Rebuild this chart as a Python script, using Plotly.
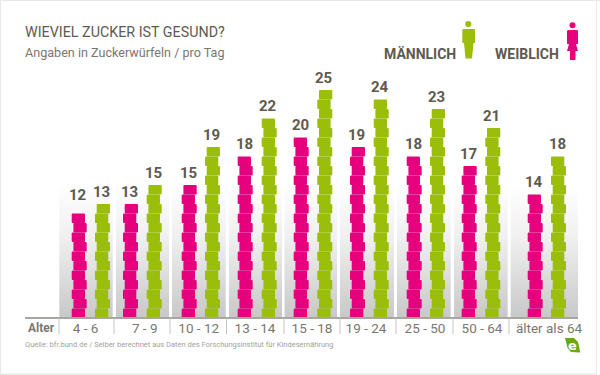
import plotly.graph_objects as go

# ---- data ----
age_groups = ["4 - 6", "7 - 9", "10 - 12", "13 - 14", "15 - 18", "19 - 24", "25 - 50", "50 - 64", "älter als 64"]
weiblich = [12, 13, 15, 18, 20, 19, 18, 17, 14]
maennlich = [13, 15, 19, 22, 25, 24, 23, 21, 18]

# ---- layout constants ----
W, H = 600, 375
BASE_PX = 318
CUBE_PX = 9.5
PINK, GREEN = "#e6007e", "#9bbe0a"
DARK, MID, LIGHT = "#5e5a50", "#7a776f", "#a3a19a"
NARROW = "Roboto, sans-serif"
pink_left = [71.7, 123.0, 181.7, 237.7, 293.7, 350.0, 406.7, 461.7, 527.7]
green_left = [95.0, 146.7, 205.0, 261.7, 317.3, 373.7, 430.0, 485.3, 551.0]
panel_edges = [(59.3, 112.7), (116, 169), (172, 225.7), (229, 282), (284.5, 337),
               (340, 394), (397, 450.7), (454, 507.7), (510.7, 578)]
separators = [59, 114, 170, 226.5, 284, 340, 396, 453, 509]
label_centres = [85.5, 144.7, 198.7, 255, 312, 366, 425, 482, 549]
CUBE_W = 13.3
JOG = 1.7


def y_of_px(py):
    """Value-axis coordinate of a pixel row (the cubes start at value 1)."""
    return 1 + (BASE_PX - py) / CUBE_PX


def fx(px):
    return px / W


def fy(py):
    return 1 - py / H


def cubes(lefts, values, colour, name):
    xs, bases = [], []
    for left, v in zip(lefts, values):
        for k in range(1, v):
            xs.append(left + CUBE_W / 2 + (JOG if k % 2 == 0 else 0))
            bases.append(k)
    return go.Bar(x=xs, y=[1] * len(xs), base=bases, width=CUBE_W, name=name,
                  marker=dict(color=colour, line=dict(width=0), cornerradius=1.5),
                  xaxis="x2", yaxis="y2", hoverinfo="skip", showlegend=False)


fig = go.Figure()

# gradient panels on the base axes, below the overlaying cube axes
for i, (a, b) in enumerate(panel_edges):
    top = 185 if i == 8 else 182
    fig.add_trace(go.Scatter(
        x=[a, b, b, a, a], y=[y_of_px(BASE_PX), y_of_px(BASE_PX), y_of_px(top), y_of_px(top), y_of_px(BASE_PX)],
        mode="none", fill="toself", hoverinfo="skip", showlegend=False,
        fillgradient=dict(type="vertical",
                          colorscale=[[0, "#c8c8c8"], [0.6, "#f0f0f0"], [1, "#ffffff"]])))

fig.add_trace(cubes(pink_left, weiblich, PINK, "Weiblich"))
fig.add_trace(cubes(green_left, maennlich, GREEN, "Männlich"))

annotations = []
def txt(x, y, s, size, colour, anchor="left", family=NARROW):
    annotations.append(dict(x=fx(x), y=fy(y), xref="paper", yref="paper", text=s, showarrow=False,
                            xanchor=anchor, yanchor="middle", font=dict(size=size, color=colour, family=family),
                            borderpad=0, borderwidth=0))

# value labels above each stack
for lefts, values in ((pink_left, weiblich), (green_left, maennlich)):
    for left, v in zip(lefts, values):
        gap = 11 if (lefts is pink_left and v == 12) else 4.5
        annotations.append(dict(x=left + CUBE_W / 2, y=v, xref="x2", yref="y2",
                                text=f"<b>{v}</b>", showarrow=False, xanchor="center", yanchor="bottom",
                                yshift=gap - 3, font=dict(size=15, color=DARK, family=NARROW)))

txt(25, 32, "WIEVIEL ZUCKER IST GESUND?", 14.3, DARK)
txt(25, 53, "Angaben in Zuckerwürfeln / pro Tag", 12.6, MID)
txt(384, 54, "<b>MÄNNLICH</b>", 14, DARK)
txt(495, 54, "<b>WEIBLICH</b>", 14, DARK)
txt(28, 328, "<b>Alter</b>", 12, MID)
txt(25, 344, "Quelle: bfr.bund.de / Selber berechnet aus Daten des Forschungsinstitut für Kindesernährung", 7.5, LIGHT)

shapes = []
# frame
for (x0, y0, x1, y1) in ((0, 0, 600, 1), (0, 0, 1, 375), (596, 0, 597, 375), (0, 373.5, 597, 375)):
    shapes.append(dict(type="rect", xref="paper", yref="paper", x0=fx(x0), x1=fx(x1), y0=fy(y0), y1=fy(y1),
                       fillcolor="#e9e9e3", line=dict(width=0), layer="below"))
# base line and separators
shapes.append(dict(type="line", xref="paper", yref="paper", x0=fx(25), x1=fx(578), y0=fy(BASE_PX), y1=fy(BASE_PX),
                   line=dict(color="#a8a6a0", width=2)))
for s in separators:
    shapes.append(dict(type="line", xref="paper", yref="paper", x0=fx(s), x1=fx(s), y0=fy(BASE_PX), y1=fy(334),
                       line=dict(color="#c4c3bd", width=1)))


def poly(points, colour):
    path = "M " + " L ".join(f"{fx(x):.5f},{fy(y):.5f}" for x, y in points) + " Z"
    shapes.append(dict(type="path", xref="paper", yref="paper", path=path, fillcolor=colour, line=dict(width=0)))


def head(cx, cy, r, colour):
    shapes.append(dict(type="circle", xref="paper", yref="paper", x0=fx(cx - r), x1=fx(cx + r),
                       y0=fy(cy - r), y1=fy(cy + r), fillcolor=colour, line=dict(width=0)))


# man icon
head(468.3, 24, 3.1, GREEN)
poly([(463, 29), (474.5, 29), (475, 30.5), (475, 43), (473.5, 43), (472, 58.5), (465.5, 58.5),
      (464, 43), (462.3, 43), (462.3, 30.5)], GREEN)
# woman icon
head(572.5, 25.3, 3, PINK)
poly([(568, 30), (577, 30), (578, 31), (578, 44), (576, 44), (578, 51), (575.5, 51), (575.5, 60),
      (570, 60), (570, 51), (567, 51), (569, 44), (567, 44), (567, 31)], PINK)
# logo leaf
poly([(565, 338), (574, 338), (578, 342), (580, 351), (580, 352.5), (571, 352), (567.5, 348)], "#6aa815")
txt(572.5, 345.5, "<b>e</b>", 13, "#ffffff", "center", "DejaVu Sans")

fig.update_layout(
    width=W, height=H, margin=dict(l=0, r=0, t=0, b=0, pad=0, autoexpand=False), autosize=False,
    paper_bgcolor="white", plot_bgcolor="rgba(0,0,0,0)", barmode="overlay", showlegend=False,
    xaxis=dict(domain=[fx(25), fx(578)], range=[25, 578], tickmode="array", tickvals=label_centres,
               ticktext=age_groups, ticks="", showgrid=False, zeroline=False, showline=False, automargin=False,
               tickfont=dict(size=13.5, color=MID, family=NARROW)),
    yaxis=dict(domain=[fy(BASE_PX), 1], range=[1, y_of_px(0)], visible=False),
    xaxis2=dict(overlaying="x", matches="x", visible=False),
    yaxis2=dict(overlaying="y", matches="y", visible=False),
    annotations=annotations, shapes=shapes,
)
fig.write_html("out.html", config={"displayModeBar": False},
               post_script="document.body.style.margin='0';document.documentElement.style.overflow='hidden';")
